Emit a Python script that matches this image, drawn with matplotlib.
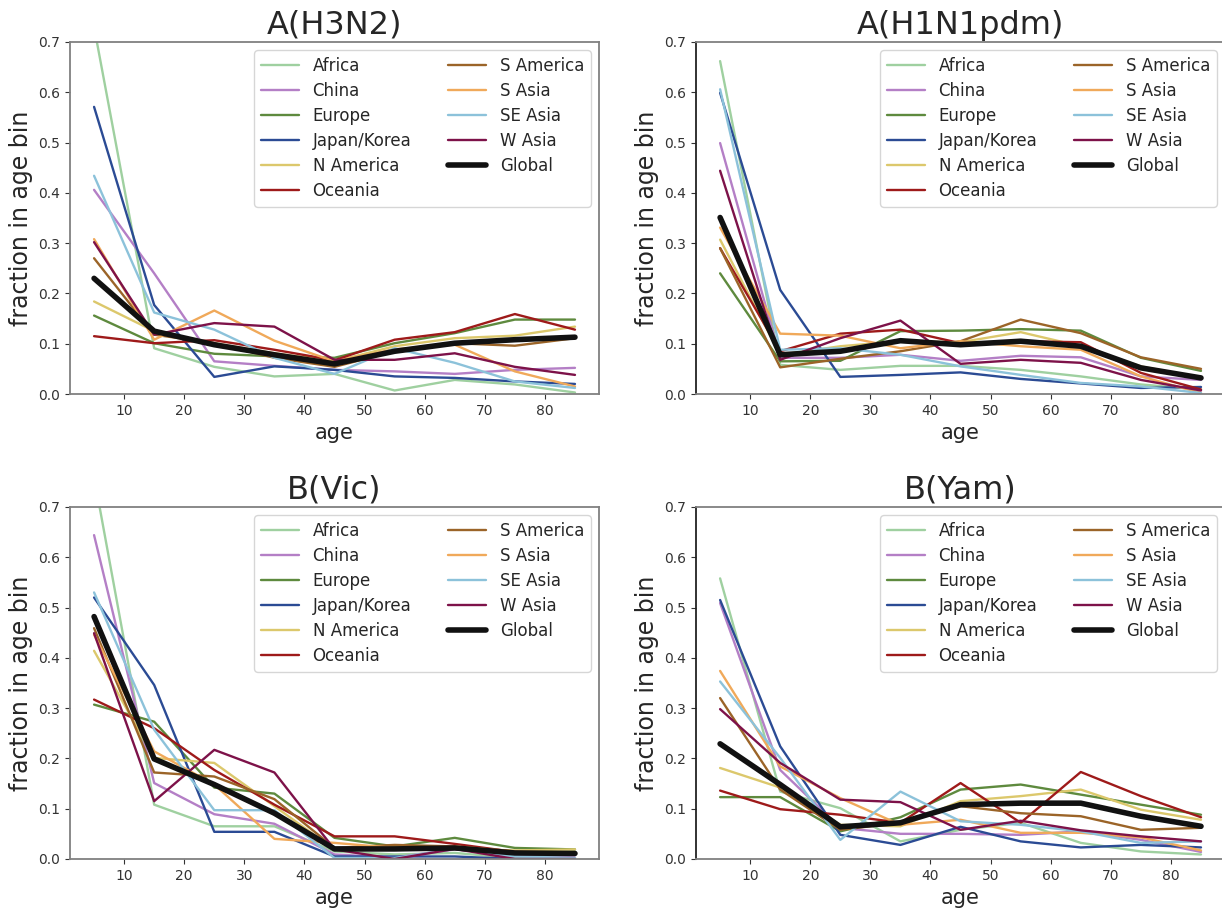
import matplotlib
matplotlib.use("Agg")
import matplotlib.pyplot as plt
import seaborn as sns

# 年龄分组中点
ages = [5, 15, 25, 35, 45, 55, 65, 75, 85]

regions = ["Africa", "China", "Europe", "Japan/Korea", "N America", "Oceania",
           "S America", "S Asia", "SE Asia", "W Asia"]
colors = ["#9fd0a0", "#b47fc6", "#5e8a3e", "#2b4b94", "#dcc86c", "#9e1a1a",
          "#9b6428", "#f0a95a", "#8cc2da", "#7d1249"]

# A(H3N2) 各地区年龄分布
h3n2 = {
    "Africa":      [0.73, 0.091, 0.054, 0.035, 0.040, 0.007, 0.028, 0.019, 0.003],
    "China":       [0.406, 0.24, 0.065, 0.056, 0.048, 0.045, 0.040, 0.048, 0.052],
    "Europe":      [0.156, 0.101, 0.080, 0.075, 0.072, 0.101, 0.121, 0.148, 0.148],
    "Japan/Korea": [0.571, 0.177, 0.034, 0.055, 0.048, 0.035, 0.032, 0.025, 0.020],
    "N America":   [0.184, 0.125, 0.101, 0.081, 0.065, 0.095, 0.111, 0.116, 0.134],
    "Oceania":     [0.115, 0.101, 0.107, 0.088, 0.067, 0.108, 0.123, 0.159, 0.128],
    "S America":   [0.270, 0.118, 0.101, 0.072, 0.054, 0.085, 0.101, 0.096, 0.111],
    "S Asia":      [0.308, 0.108, 0.166, 0.106, 0.065, 0.089, 0.098, 0.045, 0.015],
    "SE Asia":     [0.434, 0.162, 0.128, 0.072, 0.040, 0.091, 0.062, 0.025, 0.012],
    "W Asia":      [0.302, 0.118, 0.141, 0.134, 0.068, 0.068, 0.081, 0.054, 0.038],
}
h3n2_global = [0.230, 0.125, 0.098, 0.078, 0.060, 0.085, 0.101, 0.108, 0.113]

# A(H1N1pdm)
h1n1 = {
    "Africa":      [0.662, 0.058, 0.048, 0.056, 0.056, 0.048, 0.035, 0.019, 0.009],
    "China":       [0.499, 0.072, 0.072, 0.078, 0.066, 0.076, 0.073, 0.035, 0.028],
    "Europe":      [0.240, 0.065, 0.066, 0.125, 0.126, 0.129, 0.126, 0.072, 0.046],
    "Japan/Korea": [0.599, 0.207, 0.034, 0.038, 0.043, 0.030, 0.021, 0.012, 0.014],
    "N America":   [0.307, 0.078, 0.095, 0.105, 0.103, 0.123, 0.095, 0.055, 0.032],
    "Oceania":     [0.290, 0.085, 0.120, 0.128, 0.101, 0.105, 0.103, 0.042, 0.009],
    "S America":   [0.290, 0.053, 0.070, 0.085, 0.105, 0.148, 0.121, 0.073, 0.050],
    "S Asia":      [0.331, 0.120, 0.116, 0.091, 0.105, 0.095, 0.088, 0.035, 0.002],
    "SE Asia":     [0.606, 0.088, 0.091, 0.078, 0.055, 0.038, 0.022, 0.015, 0.002],
    "W Asia":      [0.444, 0.068, 0.111, 0.146, 0.060, 0.068, 0.062, 0.028, 0.007],
}
h1n1_global = [0.351, 0.078, 0.085, 0.106, 0.098, 0.105, 0.095, 0.052, 0.032]

# B(Vic)
vic = {
    "Africa":      [0.76, 0.108, 0.065, 0.065, 0.015, 0.009, 0.012, 0.002, 0.002],
    "China":       [0.644, 0.151, 0.089, 0.070, 0.009, 0.003, 0.019, 0.009, 0.003],
    "Europe":      [0.307, 0.273, 0.142, 0.130, 0.042, 0.025, 0.042, 0.022, 0.019],
    "Japan/Korea": [0.520, 0.346, 0.054, 0.054, 0.005, 0.005, 0.005, 0.000, 0.000],
    "N America":   [0.414, 0.201, 0.191, 0.105, 0.019, 0.022, 0.020, 0.017, 0.019],
    "Oceania":     [0.317, 0.260, 0.177, 0.108, 0.045, 0.045, 0.030, 0.014, 0.009],
    "S America":   [0.459, 0.172, 0.164, 0.119, 0.022, 0.028, 0.025, 0.012, 0.009],
    "S Asia":      [0.446, 0.214, 0.148, 0.040, 0.032, 0.022, 0.025, 0.015, 0.012],
    "SE Asia":     [0.530, 0.257, 0.097, 0.097, 0.002, 0.002, 0.020, 0.005, 0.002],
    "W Asia":      [0.449, 0.115, 0.217, 0.172, 0.019, 0.000, 0.020, 0.000, 0.000],
}
vic_global = [0.482, 0.199, 0.148, 0.091, 0.020, 0.020, 0.022, 0.012, 0.011]

# B(Yam)
yam = {
    "Africa":      [0.558, 0.134, 0.101, 0.035, 0.058, 0.072, 0.032, 0.015, 0.009],
    "China":       [0.509, 0.177, 0.062, 0.050, 0.050, 0.048, 0.055, 0.038, 0.014],
    "Europe":      [0.123, 0.123, 0.055, 0.083, 0.138, 0.148, 0.128, 0.108, 0.088],
    "Japan/Korea": [0.515, 0.224, 0.048, 0.028, 0.064, 0.035, 0.023, 0.028, 0.023],
    "N America":   [0.181, 0.142, 0.068, 0.065, 0.115, 0.125, 0.138, 0.098, 0.078],
    "Oceania":     [0.136, 0.099, 0.088, 0.072, 0.151, 0.072, 0.173, 0.125, 0.083],
    "S America":   [0.320, 0.138, 0.058, 0.072, 0.105, 0.091, 0.085, 0.058, 0.062],
    "S Asia":      [0.374, 0.184, 0.121, 0.068, 0.078, 0.052, 0.052, 0.043, 0.017],
    "SE Asia":     [0.353, 0.201, 0.038, 0.134, 0.075, 0.068, 0.055, 0.032, 0.035],
    "W Asia":      [0.298, 0.191, 0.118, 0.113, 0.058, 0.076, 0.057, 0.045, 0.035],
}
yam_global = [0.229, 0.148, 0.064, 0.072, 0.108, 0.111, 0.111, 0.085, 0.065]

lineages = [("A(H3N2)", h3n2, h3n2_global), ("A(H1N1pdm)", h1n1, h1n1_global),
            ("B(Vic)", vic, vic_global), ("B(Yam)", yam, yam_global)]

sns.set_style("ticks")
plt.rcParams["font.family"] = ["DejaVu Sans"]

fig = plt.figure(figsize=(12.22, 9.11), dpi=100)
# 子图位置 [left, bottom, width, height]
positions = [[0.0573, 0.5675, 0.4329, 0.3864], [0.5696, 0.5675, 0.4329, 0.3864],
             [0.0573, 0.0571, 0.4329, 0.3864], [0.5696, 0.0571, 0.4329, 0.3864]]

for i, (title, data, glob) in enumerate(lineages):
    ax = fig.add_axes(positions[i])
    for region, c in zip(regions, colors):
        ax.plot(ages, data[region], c=c, lw=1.7, label=region)
    ax.plot(ages, glob, c="#111111", lw=4, label="Global")
    ax.set_ylim(0, 0.7)
    ax.set_xlim(1, 89)
    ax.set_xticks(range(10, 90, 10))
    ax.set_yticks([0.0, 0.1, 0.2, 0.3, 0.4, 0.5, 0.6, 0.7])
    ax.set_yticklabels(["%.1f" % v for v in ax.get_yticks()])
    ax.set_title(title, fontsize=23)
    ax.set_xlabel("age", fontsize=15)
    ax.set_ylabel("fraction in age bin", fontsize=17)
    ax.tick_params(axis="both", which="major", labelsize=10, colors="#333333")
    for s in ax.spines.values():
        s.set_color("#808080")
        s.set_linewidth(1.3)
    if i % 2 == 1:
        ax.spines["left"].set_color("#222222")
    ax.legend(loc="upper right", ncol=2, fontsize=12, labelspacing=0.42,
              handlelength=2.3, columnspacing=2.2)

plt.savefig("out.png", dpi=100)
